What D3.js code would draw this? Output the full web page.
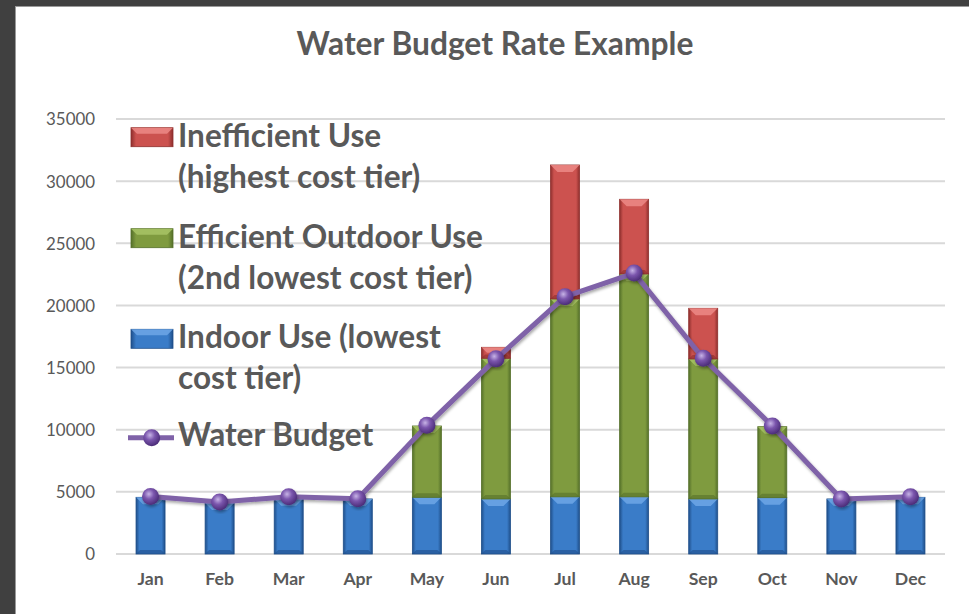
<!DOCTYPE html>
<html>
<head>
<meta charset="utf-8">
<script src="https://cdn.jsdelivr.net/npm/d3@7"></script>
<style>
  body { margin: 0; background: #404040; }
  svg { display: block; }
</style>
</head>
<body>
<div id="chart"></div>
<script>
// Data
const months = ["Jan", "Feb", "Mar", "Apr", "May", "Jun", "Jul", "Aug", "Sep", "Oct", "Nov", "Dec"];
const indoorUse = [4560, 4100, 4450, 4430, 4560, 4430, 4600, 4600, 4430, 4530, 4430, 4560];
const outdoorUse = [0, 0, 0, 0, 5740, 11320, 15920, 17930, 11260, 5715, 0, 0];
const inefficientUse = [0, 0, 0, 0, 0, 880, 10780, 6010, 4080, 0, 0, 0];
const waterBudget = [4620, 4180, 4610, 4450, 10350, 15700, 20700, 22600, 15750, 10300, 4430, 4610];
const yTicks = [0, 5000, 10000, 15000, 20000, 25000, 30000, 35000];

const seriesNames = ["Indoor Use (lowest cost tier)", "Efficient Outdoor Use (2nd lowest cost tier)", "Inefficient Use (highest cost tier)"];
const seriesKeys = ["indoor", "outdoor", "inefficient"];

const textColor = "#595959";
const fontFam = "Lato, 'Open Sans', sans-serif";

// colours for each tier: base, light facet, dark edge
const tierColors = {
  indoor: { base: "#3a7cc8", light: "#6fa7e6", dark: "#1f4f8a" },
  outdoor: { base: "#7f9b3f", light: "#a8c466", dark: "#55702a" },
  inefficient: { base: "#cc524f", light: "#ec8a86", dark: "#8e2f2d" }
};

const W = 969, H = 614;
const margin = { top: 119, right: 24, bottom: 60, left: 116 };
const plotW = 945 - margin.left;
const plotH = 554 - margin.top;

// build table for stacking
const table = months.map((m, i) => ({
  month: m, indoor: indoorUse[i], outdoor: outdoorUse[i], inefficient: inefficientUse[i], budget: waterBudget[i]
}));

const svg = d3.select("#chart").append("svg")
  .attr("width", W)
  .attr("height", H);

// dark frame and white chart area
svg.append("rect").attr("width", W).attr("height", H).attr("fill", "#404040");
svg.append("rect")
  .attr("x", 15.5).attr("y", 6.5)
  .attr("width", W).attr("height", H)
  .attr("fill", "#ffffff")
  .attr("stroke", "#9a9a9a");

const defs = svg.append("defs");

// horizontal gradients give the bars their rounded bevel look
seriesKeys.forEach(k => {
  const c = tierColors[k];
  const g = defs.append("linearGradient").attr("id", "grad-" + k)
    .attr("x1", "0").attr("x2", "1").attr("y1", "0").attr("y2", "0");
  g.append("stop").attr("offset", "0%").attr("stop-color", c.dark);
  g.append("stop").attr("offset", "12%").attr("stop-color", c.base);
  g.append("stop").attr("offset", "88%").attr("stop-color", c.base);
  g.append("stop").attr("offset", "100%").attr("stop-color", c.dark);
});

const mk = defs.append("radialGradient").attr("id", "marker-grad")
  .attr("cx", "40%").attr("cy", "35%").attr("r", "65%");
mk.append("stop").attr("offset", "0%").attr("stop-color", "#c7b3e6");
mk.append("stop").attr("offset", "45%").attr("stop-color", "#7b56ad");
mk.append("stop").attr("offset", "100%").attr("stop-color", "#4b2c78");

const shadow = defs.append("filter").attr("id", "shadow")
  .attr("x", "-20%").attr("y", "-20%").attr("width", "140%").attr("height", "140%");
shadow.append("feDropShadow").attr("dx", 1).attr("dy", 2).attr("stdDeviation", 1.5)
  .attr("flood-color", "#000").attr("flood-opacity", 0.35);

// Title
const title = svg.append("text")
  .attr("x", 495).attr("y", 55)
  .attr("text-anchor", "middle")
  .attr("font-family", fontFam)
  .attr("font-weight", "bold")
  .attr("font-size", 26)
  .attr("fill", textColor)
  .text("Water Budget Rate Example");
fitFont(title, 397);

const g = svg.append("g")
  .attr("transform", "translate(" + margin.left + "," + margin.top + ")");

// Scales
const x = d3.scaleBand()
  .domain(months)
  .range([0, plotW])
  .paddingInner(0.58)
  .paddingOuter(0.29);

const y = d3.scaleLinear()
  .domain([0, 35000])
  .range([plotH, 0]);

// Gridlines
g.append("g")
  .selectAll("line")
  .data(yTicks)
  .enter()
  .append("line")
  .attr("x1", 0).attr("x2", plotW)
  .attr("y1", d => y(d)).attr("y2", d => y(d))
  .attr("stroke", "#d9d9d9")
  .attr("stroke-width", 2);

// Y axis labels
const yAxis = g.append("g")
  .attr("transform", "translate(-18,0)")
  .call(d3.axisLeft(y).tickValues(yTicks).tickSize(0).tickFormat(d3.format("d")));
yAxis.select(".domain").remove();
yAxis.selectAll("text")
  .attr("font-family", fontFam)
  .attr("font-size", 17)
  .attr("fill", textColor)
  .attr("dy", "0.35em");
fitGroup(yAxis.selectAll("text"), yAxis.selectAll("text").filter(d => d === 35000), 49);

// X axis labels
const xAxis = g.append("g")
  .attr("transform", "translate(0," + plotH + ")")
  .call(d3.axisBottom(x).tickSize(0).tickPadding(0));
xAxis.select(".domain").remove();
xAxis.selectAll("text")
  .attr("font-family", fontFam)
  .attr("font-weight", "bold")
  .attr("font-size", 17)
  .attr("fill", textColor)
  .attr("dy", null)
  .attr("y", 31);
fitGroup(xAxis.selectAll("text"), xAxis.selectAll("text").filter(d => d === "Mar"), 32);

// Stacked bars
const stack = d3.stack().keys(seriesKeys);
const stacked = stack(table);

const layers = g.append("g")
  .selectAll("g")
  .data(stacked)
  .enter()
  .append("g")
  .attr("class", d => "layer " + d.key);

layers.each(function (layer) {
  const key = layer.key;
  const c = tierColors[key];
  const segs = d3.select(this)
    .selectAll("g")
    .data(layer.filter(d => d[1] - d[0] > 0))
    .enter()
    .append("g");

  segs.append("rect")
    .attr("x", d => x(d.data.month))
    .attr("y", d => y(d[1]))
    .attr("width", x.bandwidth())
    .attr("height", d => y(d[0]) - y(d[1]))
    .attr("fill", "url(#grad-" + key + ")")
    .attr("stroke", c.dark)
    .attr("stroke-width", 0.8);

  // lighter top facet
  segs.append("path")
    .attr("d", d => {
      const x0 = x(d.data.month), x1 = x0 + x.bandwidth();
      const t = y(d[1]);
      const b = Math.min(7, (y(d[0]) - y(d[1])) / 2);
      return "M" + x0 + "," + t + "L" + x1 + "," + t + "L" + (x1 - b) + "," + (t + b) + "L" + (x0 + b) + "," + (t + b) + "Z";
    })
    .attr("fill", c.light)
    .attr("opacity", 0.85);

  // darker bottom facet
  segs.append("path")
    .attr("d", d => {
      const x0 = x(d.data.month), x1 = x0 + x.bandwidth();
      const bt = y(d[0]);
      const b = Math.min(4, (y(d[0]) - y(d[1])) / 3);
      return "M" + x0 + "," + bt + "L" + x1 + "," + bt + "L" + (x1 - b) + "," + (bt - b) + "L" + (x0 + b) + "," + (bt - b) + "Z";
    })
    .attr("fill", c.dark)
    .attr("opacity", 0.6);
});

// Water budget line
const line = d3.line()
  .x(d => x(d.month) + x.bandwidth() / 2)
  .y(d => y(d.budget));

g.append("path")
  .datum(table)
  .attr("d", line)
  .attr("fill", "none")
  .attr("stroke", "#7f62a8")
  .attr("stroke-width", 5)
  .attr("stroke-linejoin", "round")
  .attr("filter", "url(#shadow)");

g.append("g")
  .selectAll("circle")
  .data(table)
  .enter()
  .append("circle")
  .attr("cx", d => x(d.month) + x.bandwidth() / 2)
  .attr("cy", d => y(d.budget))
  .attr("r", 8.5)
  .attr("fill", "url(#marker-grad)")
  .attr("filter", "url(#shadow)");

// Legend
const legendItems = [
  { key: "inefficient", lines: ["Inefficient Use", "(highest cost tier)"], base: 146.7 },
  { key: "outdoor", lines: ["Efficient Outdoor Use", "(2nd lowest cost tier)"], base: 247.7 },
  { key: "indoor", lines: ["Indoor Use (lowest", "cost tier)"], base: 348.3 },
  { key: "budget", lines: ["Water Budget"], base: 445.7 }
];
const lineGap = 41;

const legend = svg.append("g").attr("class", "legend");

legendItems.forEach(item => {
  if (item.key === "budget") {
    legend.append("line")
      .attr("x1", 128).attr("x2", 174)
      .attr("y1", item.base - 8).attr("y2", item.base - 8)
      .attr("stroke", "#7f62a8")
      .attr("stroke-width", 5);
    legend.append("circle")
      .attr("cx", 151.7).attr("cy", item.base - 8)
      .attr("r", 8.5)
      .attr("fill", "url(#marker-grad)");
  } else {
    const c = tierColors[item.key];
    const sx = 131, sw = 42, sh = 19, sy = item.base - sh;
    legend.append("rect")
      .attr("x", sx).attr("y", sy)
      .attr("width", sw).attr("height", sh)
      .attr("fill", "url(#grad-" + item.key + ")")
      .attr("stroke", c.dark)
      .attr("stroke-width", 0.8);
    legend.append("path")
      .attr("d", "M" + sx + "," + sy + "L" + (sx + sw) + "," + sy + "L" + (sx + sw - 6) + "," + (sy + 6) + "L" + (sx + 6) + "," + (sy + 6) + "Z")
      .attr("fill", c.light)
      .attr("opacity", 0.85);
  }
  item.lines.forEach((t, i) => {
    legend.append("text")
      .attr("class", "legend-text")
      .attr("x", 178)
      .attr("y", item.base + i * lineGap)
      .attr("font-family", fontFam)
      .attr("font-weight", "bold")
      .attr("font-size", 30)
      .attr("fill", textColor)
      .text(t);
  });
});
const legendTexts = legend.selectAll(".legend-text");
fitGroup(legendTexts, legendTexts.filter(function () { return this.textContent === "Efficient Outdoor Use"; }), 305);

// scale font size so a label takes the width it has in the picture
function fitFont(sel, target) {
  const w = sel.node().getComputedTextLength();
  const fs = parseFloat(sel.attr("font-size"));
  sel.attr("font-size", fs * target / w);
}

function fitGroup(all, ref, target) {
  const w = ref.node().getComputedTextLength();
  const fs = parseFloat(ref.attr("font-size"));
  all.attr("font-size", fs * target / w);
}
</script>
</body>
</html>
